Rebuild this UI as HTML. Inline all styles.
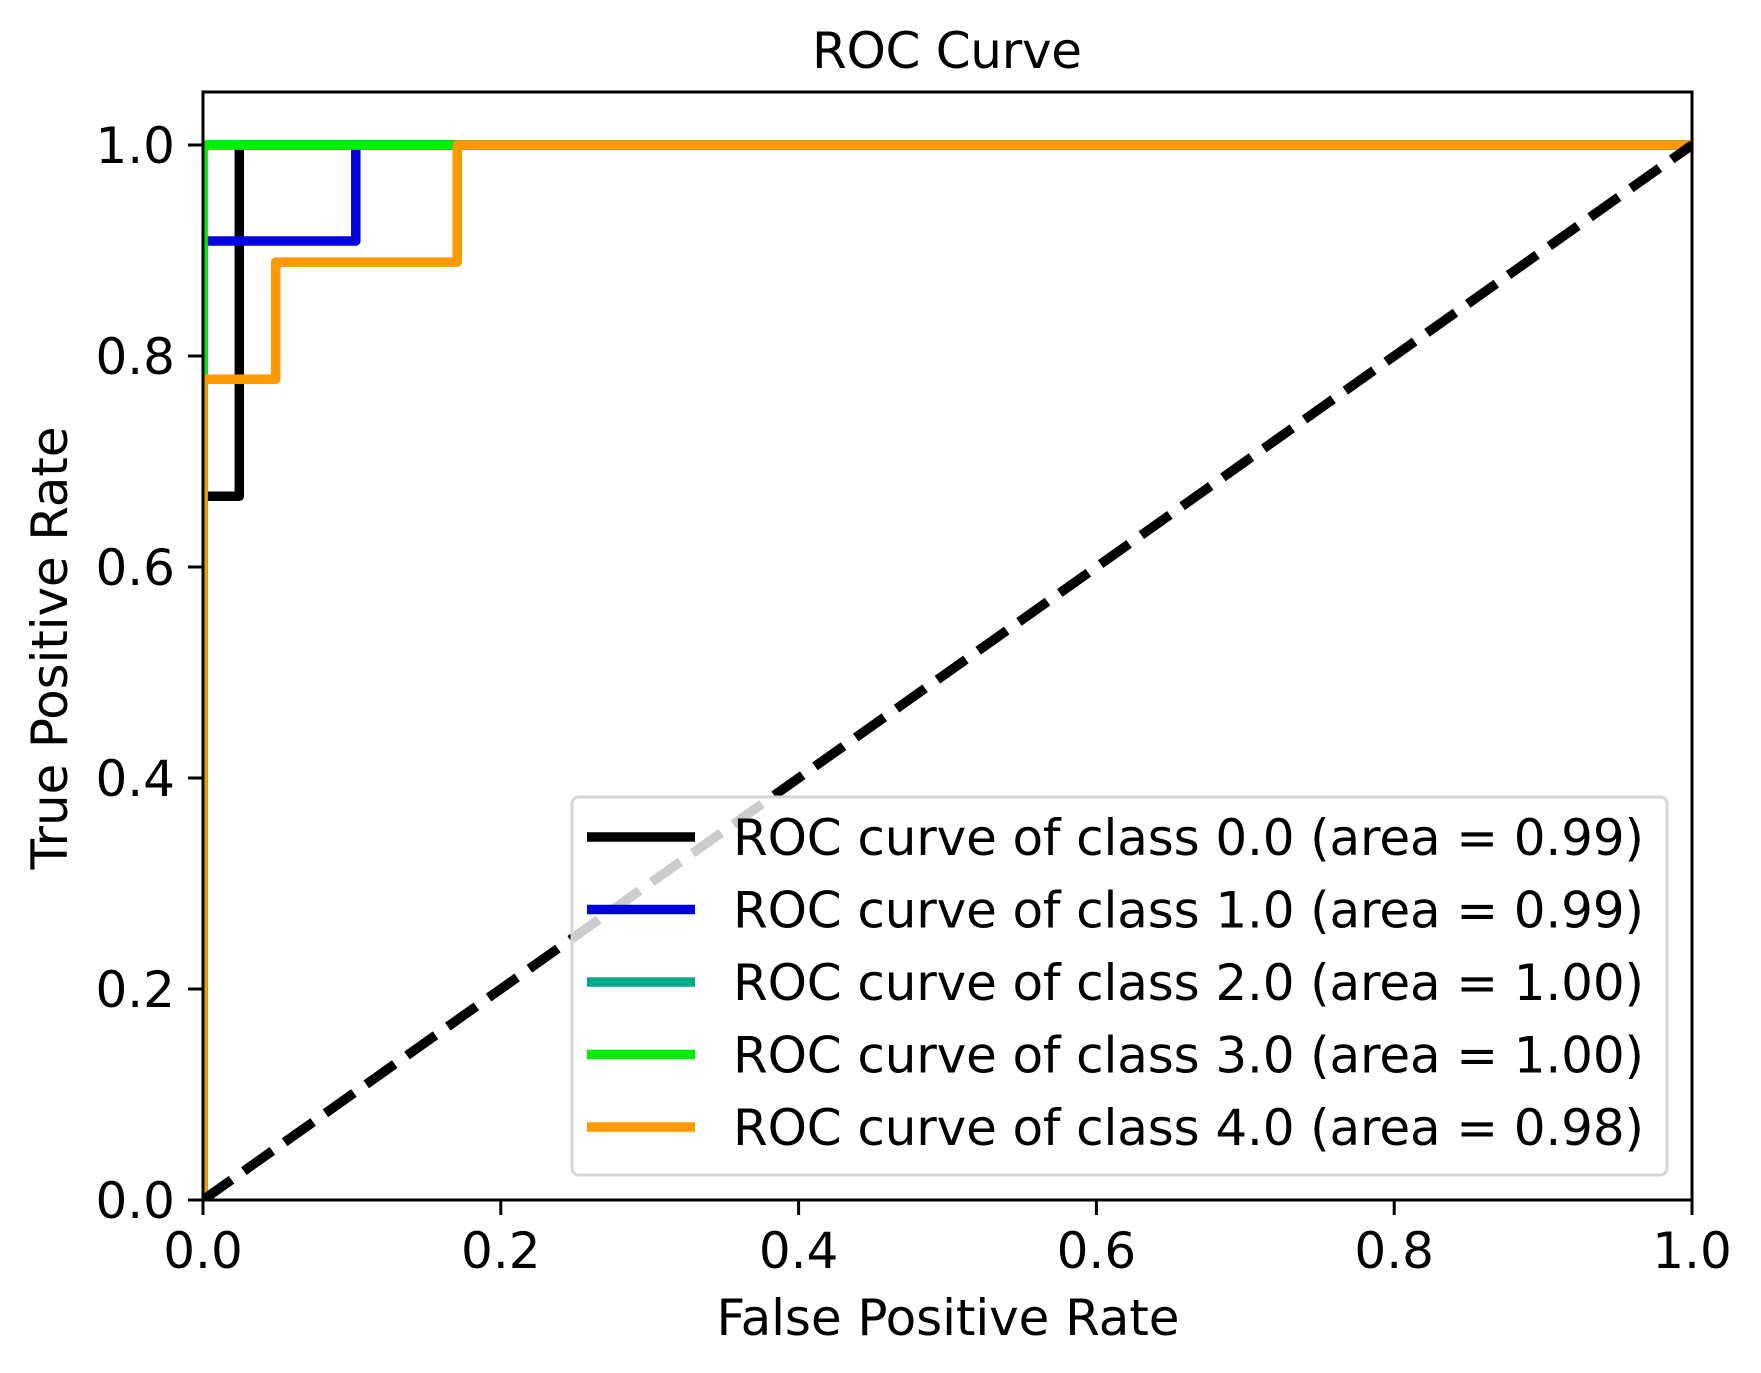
<!DOCTYPE html>
<html><head><meta charset="utf-8"><style>
html,body{margin:0;padding:0;background:#fff;}
svg{display:block;font-family:"DejaVu Sans","Liberation Sans",sans-serif;}
</style></head><body>
<svg id="chart" width="1761" height="1373" viewBox="0 0 1761 1373" xmlns="http://www.w3.org/2000/svg">
<rect width="1761" height="1373" fill="#fff"/>
<text x="947" y="68" font-size="50" text-anchor="middle" textLength="270">ROC Curve</text>
<text x="948" y="1335" font-size="50" text-anchor="middle" textLength="463">False Positive Rate</text>
<text transform="translate(67,648) rotate(-90)" font-size="50" text-anchor="middle" textLength="443">True Positive Rate</text>
<g id="plot"></g>
</svg>
<script>
const tickVals = [0, 0.2, 0.4, 0.6, 0.8, 1.0];
const tickLabels = ["0.0", "0.2", "0.4", "0.6", "0.8", "1.0"];
const classNames = ["ROC curve of class 0.0 (area = 0.99)", "ROC curve of class 1.0 (area = 0.99)", "ROC curve of class 2.0 (area = 1.00)", "ROC curve of class 3.0 (area = 1.00)", "ROC curve of class 4.0 (area = 0.98)"];
const colors = ["#000000", "#0000dd", "#00aa88", "#00ee00", "#ff9900"];
const fpr0 = [0, 0, 0.0244, 0.0244, 1];
const tpr0 = [0, 0.667, 0.667, 1, 1];
const fpr1 = [0, 0, 0.1026, 0.1026, 1];
const tpr1 = [0, 0.909, 0.909, 1, 1];
const fpr2 = [0, 0, 1];
const tpr2 = [0, 1, 1];
const fpr3 = [0, 0, 1];
const tpr3 = [0, 1, 1];
const fpr4 = [0, 0, 0.0488, 0.0488, 0.1707, 0.1707, 1];
const tpr4 = [0, 0.778, 0.778, 0.889, 0.889, 1, 1];
const diagX = [0, 1];
const diagY = [0, 1];

const NS = "http://www.w3.org/2000/svg";
const L = 203, R = 1692, B = 1200, T0 = 145;
const xS = v => L + v * (R - L);
const yS = v => B - v * (B - T0);
const g = document.getElementById('plot');
function mk(tag, attrs, parent) {
  const e = document.createElementNS(NS, tag);
  for (const k in attrs) e.setAttribute(k, attrs[k]);
  (parent || g).appendChild(e);
  return e;
}
const clip = mk('clipPath', {id: 'clip'});
mk('rect', {x: L, y: 92, width: R - L, height: B - 92}, clip);

const LW = 9.5;
const series = [[fpr0, tpr0], [fpr1, tpr1], [fpr2, tpr2], [fpr3, tpr3], [fpr4, tpr4]];
series.forEach((s, i) => {
  const pts = s[0].map((x, j) => xS(x).toFixed(1) + ',' + yS(s[1][j]).toFixed(1)).join(' ');
  const p = mk('polyline', {points: pts, fill: 'none', stroke: colors[i], 'stroke-width': LW, 'stroke-linejoin': 'round', 'clip-path': 'url(#clip)'});
  
  
});
const d = mk('line', {x1: xS(diagX[0]), y1: yS(diagY[0]), x2: xS(diagX[1]), y2: yS(diagY[1]), stroke: '#000', 'stroke-width': LW, 'stroke-dasharray': '35 15', 'clip-path': 'url(#clip)'});



const sp = mk('rect', {x: L, y: 92, width: R - L, height: B - 92, fill: 'none', stroke: '#000', 'stroke-width': 3});



tickVals.forEach((v, i) => {
  mk('line', {x1: xS(v), y1: B, x2: xS(v), y2: B + 15, stroke: '#000', 'stroke-width': 3});
  const tx = mk('text', {x: xS(v), y: 1268, 'font-size': 50, 'text-anchor': 'middle'});
  tx.textContent = tickLabels[i];
  
  
  mk('line', {x1: L - 15, y1: yS(v), x2: L, y2: yS(v), stroke: '#000', 'stroke-width': 3});
  const ty = mk('text', {x: 175, y: yS(v) + 18, 'font-size': 50, 'text-anchor': 'end'});
  ty.textContent = tickLabels[i];
  
  
});

const lg = mk('g', {});


mk('rect', {x: 572, y: 797, width: 1095, height: 378, rx: 7, fill: '#fff', 'fill-opacity': 0.8, stroke: '#d6d6d6', 'stroke-width': 3}, lg);
classNames.forEach((n, i) => {
  const cy = 837 + i * 72.5;
  const ent = mk('g', {}, lg);
  
  
  mk('line', {x1: 587, y1: cy, x2: 695, y2: cy, stroke: colors[i], 'stroke-width': LW}, ent);
  const t = mk('text', {x: 733, y: cy + 18, 'font-size': 50, textLength: 911}, ent);
  t.textContent = n;
});
</script>
</body></html>
